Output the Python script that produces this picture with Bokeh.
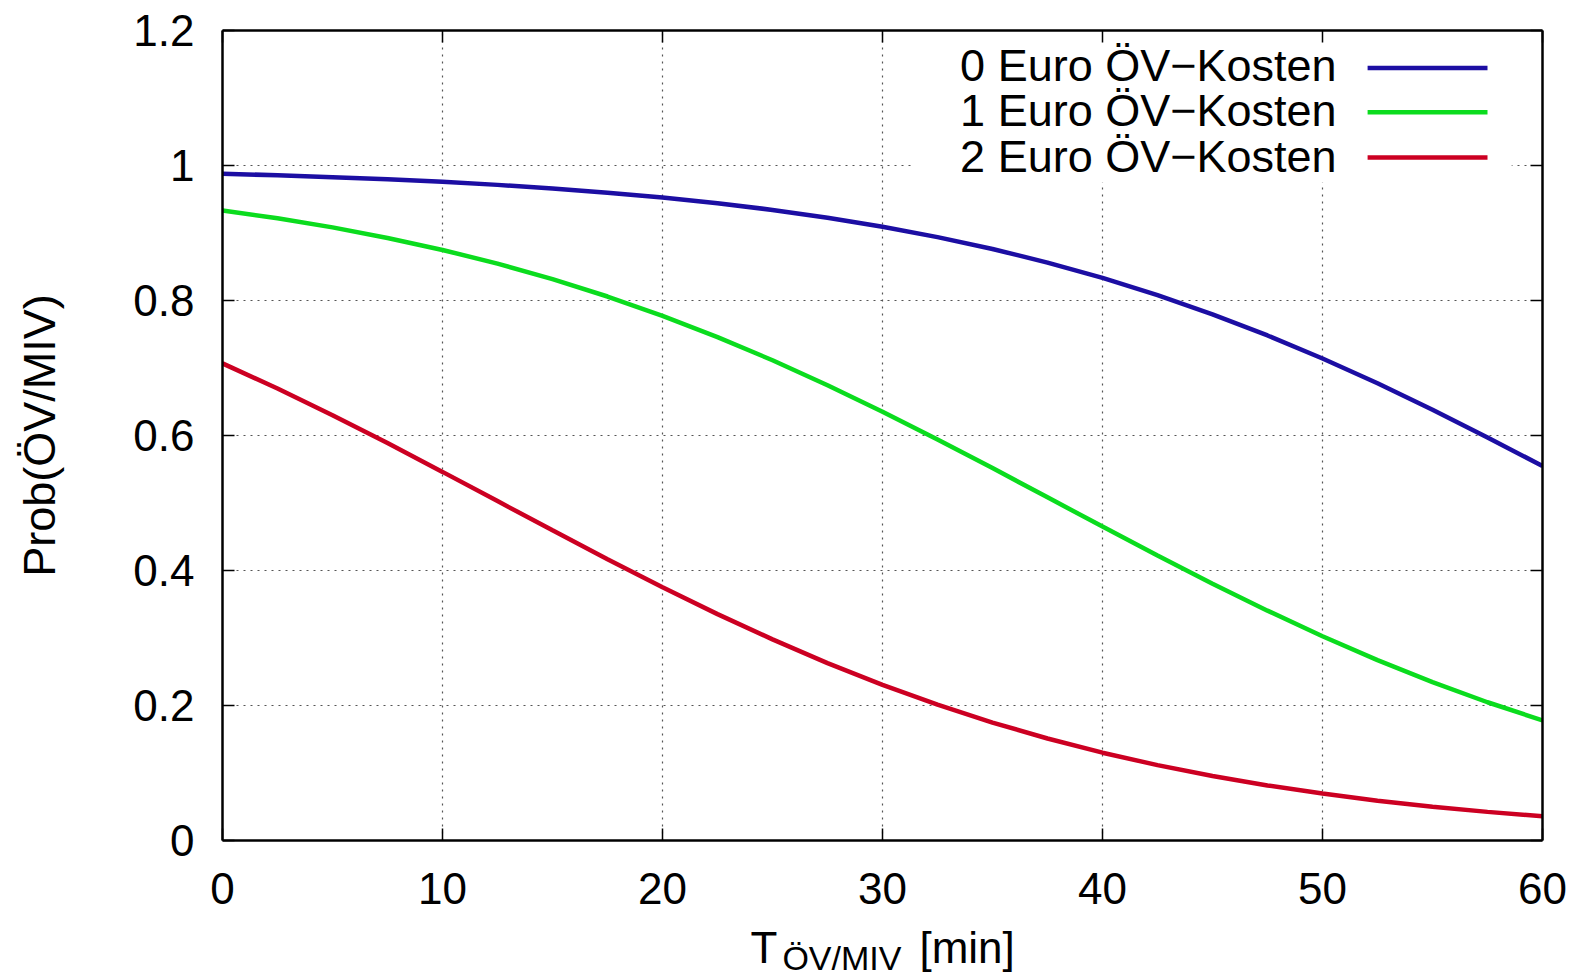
from bokeh.plotting import figure
from bokeh.layouts import column
from bokeh.models import Range1d, LinearAxis, FixedTicker, CustomJSTickFormatter, Label
from bokeh.embed import file_html
from bokeh.resources import INLINE

# ---------------- data ----------------
t_min = [0, 2.5, 5, 7.5, 10, 12.5, 15, 17.5, 20, 22.5, 25, 27.5, 30,
         32.5, 35, 37.5, 40, 42.5, 45, 47.5, 50, 52.5, 55, 57.5, 60]

prob_0_euro = [0.9878, 0.9855, 0.9827, 0.9795, 0.9758, 0.9713, 0.9660, 0.9598,
               0.9526, 0.9441, 0.9342, 0.9227, 0.9093, 0.8939, 0.8763, 0.8562,
               0.8334, 0.8079, 0.7795, 0.7482, 0.7140, 0.6773, 0.6382, 0.5972,
               0.5548]
prob_1_euro = [0.9334, 0.9218, 0.9083, 0.8927, 0.8749, 0.8546, 0.8317, 0.8059,
               0.7773, 0.7458, 0.7115, 0.6745, 0.6353, 0.5942, 0.5517, 0.5084,
               0.4651, 0.4222, 0.3805, 0.3405, 0.3026, 0.2672, 0.2346, 0.2048,
               0.1780]
prob_2_euro = [0.7068, 0.6697, 0.6301, 0.5888, 0.5461, 0.5028, 0.4595, 0.4167,
               0.3752, 0.3354, 0.2979, 0.2628, 0.2306, 0.2012, 0.1747, 0.1511,
               0.1301, 0.1117, 0.0956, 0.0816, 0.0695, 0.0590, 0.0501, 0.0424,
               0.0359]

series_labels = ["0 Euro ÖV\u2212Kosten", "1 Euro ÖV\u2212Kosten", "2 Euro ÖV\u2212Kosten"]
series_colors = ["#1c0ea3", "#0bdc1e", "#cc0022"]

x_ticks = [0, 10, 20, 30, 40, 50, 60]
x_tick_labels = ["0", "10", "20", "30", "40", "50", "60"]
y_ticks = [0, 0.2, 0.4, 0.6, 0.8, 1.0, 1.2]
y_tick_labels = ["0", "0.2", "0.4", "0.6", "0.8", "1", "1.2"]

y_axis_title = "Prob(ÖV/MIV)"
x_title_main = "T"
x_title_sub = "ÖV/MIV"
x_title_unit = "[min]"

# ---------------- figure ----------------
FONT = "Liberation Sans"
W = 1576
P_H = 921
Q_H = 57

p = figure(width=W, height=P_H,
           x_range=Range1d(0, 60), y_range=Range1d(0, 1.2),
           output_backend="svg", toolbar_location=None,
           min_border_left=222, min_border_right=34,
           min_border_top=30, min_border_bottom=P_H - 840)
p.background_fill_color = "white"
p.border_fill_color = "white"
p.outline_line_color = None

LOOKUP = """
let best = 0;
for (let i = 0; i < tick_vals.length; i++) {
  if (Math.abs(tick_vals[i] - tick) < Math.abs(tick_vals[best] - tick)) best = i;
}
return tick_texts[best];
"""
x_fmt = CustomJSTickFormatter(args=dict(tick_vals=x_ticks, tick_texts=x_tick_labels), code=LOOKUP)
y_fmt = CustomJSTickFormatter(args=dict(tick_vals=y_ticks, tick_texts=y_tick_labels), code=LOOKUP)
blank_fmt = CustomJSTickFormatter(code="return ''")


def style_axis(ax, ticks, fmt, show_labels, standoff):
    ax.ticker = FixedTicker(ticks=ticks)
    ax.formatter = fmt
    ax.major_tick_in = 12
    ax.major_tick_out = 0
    ax.minor_tick_in = 0
    ax.minor_tick_out = 0
    ax.major_tick_line_color = "black"
    ax.major_tick_line_width = 1.5
    ax.axis_line_color = "black"
    ax.axis_line_width = 2.5
    ax.major_label_text_font = FONT
    ax.major_label_text_color = "black"
    ax.major_label_text_font_size = "44px" if show_labels else "1px"
    ax.major_label_standoff = standoff


style_axis(p.xaxis[0], x_ticks, x_fmt, True, 32)
style_axis(p.yaxis[0], y_ticks, y_fmt, True, 28)

p.yaxis[0].axis_label = y_axis_title
p.yaxis[0].axis_label_text_font = FONT
p.yaxis[0].axis_label_text_font_size = "45px"
p.yaxis[0].axis_label_text_font_style = "normal"
p.yaxis[0].axis_label_text_color = "black"
p.yaxis[0].axis_label_standoff = 65

top_axis = LinearAxis()
style_axis(top_axis, x_ticks, blank_fmt, False, 0)
p.add_layout(top_axis, "above")
right_axis = LinearAxis()
style_axis(right_axis, y_ticks, blank_fmt, False, 0)
p.add_layout(right_axis, "right")

for g, ticks in ((p.xgrid[0], x_ticks), (p.ygrid[0], y_ticks)):
    g.ticker = FixedTicker(ticks=ticks)
    g.grid_line_color = "#555555"
    g.grid_line_width = 1.2
    g.grid_line_dash = "2 5"

# ---------------- curves ----------------
for vals, col in zip([prob_0_euro, prob_1_euro, prob_2_euro], series_colors):
    p.line(t_min, vals, line_color=col, line_width=4.5)

# ---------------- key (gnuplot style: opaque, text right-aligned, sample right) ----------------
KEY_LEFT, KEY_RIGHT, KEY_BOTTOM, KEY_TOP = 31.3, 58.6, 0.975, 1.2
p.quad(left=[KEY_LEFT], right=[KEY_RIGHT], bottom=[KEY_BOTTOM], top=[KEY_TOP],
       fill_color="white", line_color=None)

KEY_TEXT_X = 50.64
KEY_SAMPLE_X0, KEY_SAMPLE_X1 = 52.05, 57.5
key_text_y = [1.1480, 1.0810, 1.0140]
key_sample_y = [1.1446, 1.0790, 1.0119]
for lab, col, yt, ys in zip(series_labels, series_colors, key_text_y, key_sample_y):
    p.add_layout(Label(x=KEY_TEXT_X, y=yt, text=lab, text_align="right",
                       text_baseline="alphabetic", text_font=FONT,
                       text_font_size="45px", text_color="black"))
    p.line([KEY_SAMPLE_X0, KEY_SAMPLE_X1], [ys, ys], line_color=col, line_width=4.5)

# ---------------- x axis title with subscript (strip below the plot) ----------------
q = figure(width=W, height=Q_H, x_range=p.x_range, y_range=Range1d(0, Q_H),
           output_backend="svg", toolbar_location=None,
           x_axis_location=None, y_axis_location=None,
           min_border_left=222, min_border_right=34,
           min_border_top=0, min_border_bottom=0)
q.outline_line_color = None
q.xgrid.visible = False
q.ygrid.visible = False
q.background_fill_color = "white"
q.border_fill_color = "white"

q.add_layout(Label(x=24.0, y=31, text=x_title_main, text_align="left",
                   text_baseline="alphabetic", text_font=FONT,
                   text_font_size="44px", text_color="black"))
q.add_layout(Label(x=25.45, y=21, text=x_title_sub, text_align="left",
                   text_baseline="alphabetic", text_font=FONT,
                   text_font_size="34px", text_color="black"))
q.add_layout(Label(x=31.68, y=31, text=x_title_unit, text_align="left",
                   text_baseline="alphabetic", text_font=FONT,
                   text_font_size="44px", text_color="black"))

layout = column(p, q, spacing=0)
open("out.html", "w").write(file_html(layout, INLINE))
